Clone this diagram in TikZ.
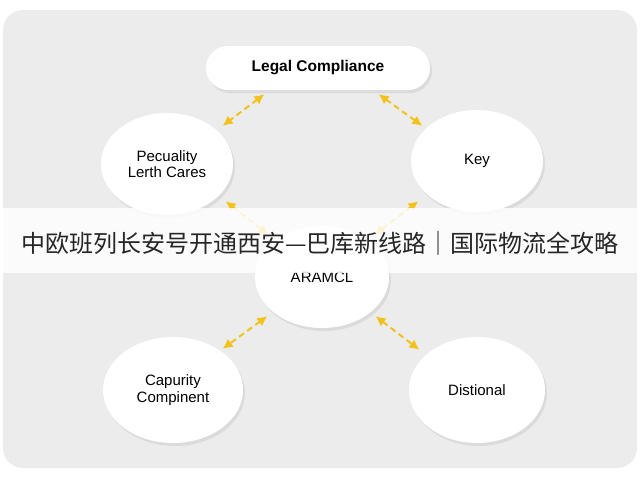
\documentclass[tikz,border=0pt]{standalone}
\usepackage{fontspec}
\setmainfont{Liberation Sans}
\newfontfamily\cjk{Noto Sans CJK SC}
\usetikzlibrary{shapes.geometric,shadows,arrows.meta}
\definecolor{panel}{HTML}{ECECEC}
\definecolor{arrowy}{HTML}{F2C21B}
\tikzset{
  bubble/.style={ellipse, fill=white, minimum width=#1, minimum height=102pt, inner sep=0pt, align=center, font=\fontsize{15}{16.5}\selectfont,
    drop shadow={shadow xshift=2pt, shadow yshift=-3pt, opacity=0.15, fill=gray}},
  bubble/.default=132pt,
  pill/.style={rounded corners=22pt, fill=white, minimum width=224pt, minimum height=44pt, font=\fontsize{15.5}{17}\selectfont\bfseries,
    drop shadow={shadow xshift=2pt, shadow yshift=-3pt, opacity=0.15, fill=gray}},
  link/.style={arrowy, line width=2pt, dash pattern=on 6pt off 4pt, {Latex[length=10pt,width=10pt]}-{Latex[length=10pt,width=10pt]}, shorten <=2pt, shorten >=2pt}
}
\begin{document}
\begin{tikzpicture}[x=1pt,y=-1pt]
\useasboundingbox (0,0) rectangle (640,480);
\fill[white] (0,0) rectangle (640,480);
\fill[panel, rounded corners=20pt] (3,10) rectangle (637,468);
\node[pill] (legal) at (318,68) {Legal Compliance};
\node[bubble=132pt] (pec) at (167,164) {Pecuality\\Lerth Cares};
\node[bubble=132pt] (key) at (477,161) {Key};
\node[bubble=134pt] (aram) at (322,277) {ARAMCL};
\node[bubble=140pt, minimum height=106pt] (cap) at (173,390) {Capurity\\Compinent};
\node[bubble=136pt, minimum height=106pt] (dist) at (477,390) {Distional};
\coordinate (a1) at (266,93); \coordinate (b1) at (221,127);
\coordinate (a2) at (377,93); \coordinate (b2) at (424,127);
\coordinate (a3) at (224,200); \coordinate (b3) at (270,236);
\coordinate (a4) at (420,200); \coordinate (b4) at (373,236);
\coordinate (a5) at (269,315); \coordinate (b5) at (221,350);
\coordinate (a6) at (374,315); \coordinate (b6) at (421,351);
\draw[link] (a1) -- (b1);
\draw[link] (a2) -- (b2);
\draw[link] (a3) -- (b3);
\draw[link] (a4) -- (b4);
\draw[link] (a5) -- (b5);
\draw[link] (a6) -- (b6);
\fill[white, opacity=0.82] (0,208) rectangle (640,273);
\node[font=\cjk\fontsize{24}{26}\selectfont, text=black!85, inner sep=0pt] (title) at (320,243) {中欧班列长安号开通西安—巴库新线路｜国际物流全攻略};
\end{tikzpicture}
\end{document}
